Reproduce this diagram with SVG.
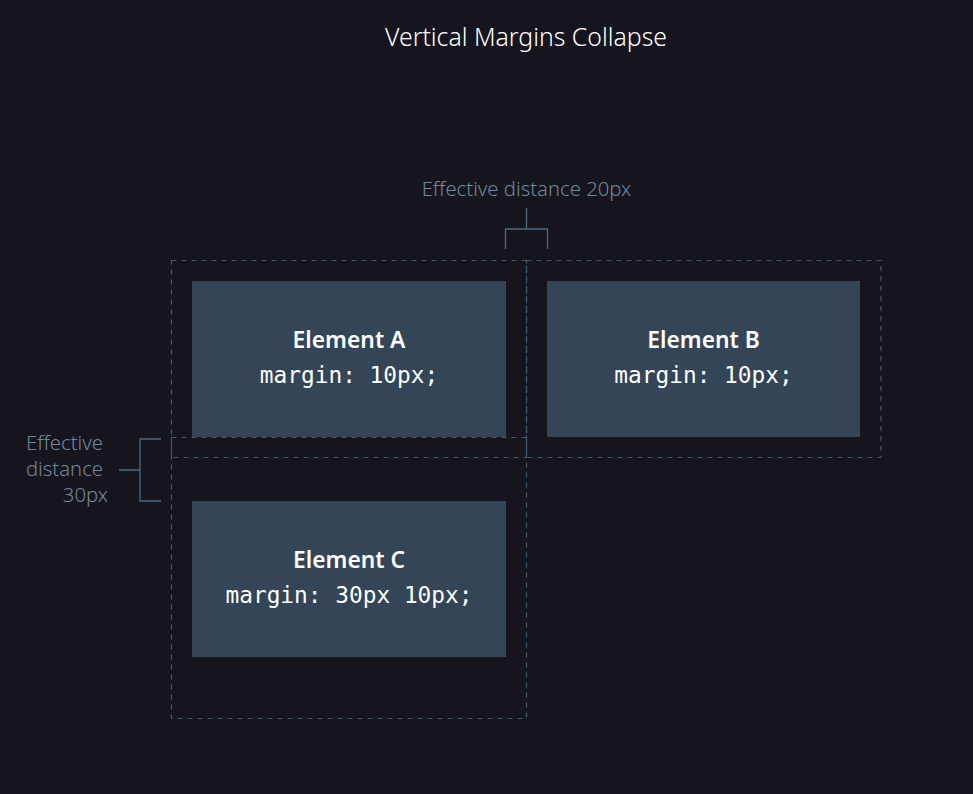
<svg xmlns="http://www.w3.org/2000/svg" width="973" height="794" viewBox="0 0 973 794">
<style>
.box{fill:#334556}
.margin{fill:none;stroke:#3e5a6f;stroke-width:1.2;stroke-dasharray:5 5}
.brk{fill:none;stroke:#4b6a80;stroke-width:1.3}
.lbl{font-family:"Noto Sans","Open Sans",sans-serif;font-weight:300;font-size:20.3px;fill:#6f889b}
.name{font-family:"Noto Sans","Open Sans",sans-serif;font-weight:600;font-size:22.8px;fill:#ffffff;text-anchor:middle}
.code{font-family:"DejaVu Sans Mono",monospace;font-size:22.8px;fill:#ffffff;text-anchor:middle}
.title{font-family:"Noto Sans","Open Sans",sans-serif;font-weight:300;font-size:24.8px;fill:#ffffff;text-anchor:middle}
</style>
<rect width="973" height="794" fill="#16151e"/>
<text class="title" x="526" y="46">Vertical Margins Collapse</text>
<g id="margins">
<rect class="margin" x="171.5" y="260.5" width="355" height="197"/>
<rect class="margin" x="526.5" y="260.5" width="354.5" height="197"/>
<rect class="margin" x="171.5" y="437.5" width="355" height="281"/>
</g>
<g id="elementA">
<rect class="box" x="192" y="281" width="314" height="156"/>
<text class="name" x="349" y="348">Element A</text>
<text class="code" x="349" y="383">margin: 10px;</text>
</g>
<g id="elementB">
<rect class="box" x="547" y="281" width="313" height="156"/>
<text class="name" x="703.5" y="348">Element B</text>
<text class="code" x="703.5" y="383">margin: 10px;</text>
</g>
<g id="elementC">
<rect class="box" x="192" y="501" width="314" height="156"/>
<text class="name" x="349" y="568">Element C</text>
<text class="code" x="349" y="603">margin: 30px 10px;</text>
</g>
<g id="connectors">
<path class="brk" d="M526.5 208 V229 M505.5 249 V229 H547.5 V249"/>
<path class="brk" d="M161 439 H140 V501 H161 M119 470 H140"/>
</g>
<g id="labels">
<text class="lbl" x="526.5" y="196" text-anchor="middle">Effective distance 20px</text>
<text class="lbl" x="103" y="450" text-anchor="end">Effective</text>
<text class="lbl" x="103" y="476" text-anchor="end">distance</text>
<text class="lbl" x="108" y="502" text-anchor="end">30px</text>
</g>
</svg>
